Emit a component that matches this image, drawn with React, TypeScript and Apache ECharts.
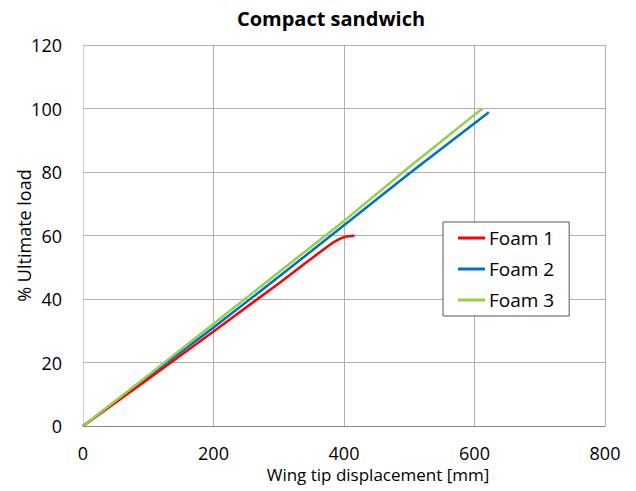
import React, { useEffect, useRef } from "react";
import * as echarts from "echarts";

const title = "Compact sandwich";
const xName = "Wing tip displacement [mm]";
const yName = "% Ultimate load";
const seriesNames = ["Foam 1", "Foam 2", "Foam 3"];
const colors = ["#ff0000", "#0070c0", "#92d050"];

const foam1: [number, number][] = [
  [0, 0], [100, 14.8], [200, 29.8], [300, 44.9], [340, 51.2], [370, 55.8],
  [385, 58], [395, 59.1], [403, 59.7], [416, 59.9],
];
const foam2: [number, number][] = [
  [0, 0], [100, 15.5], [200, 31], [300, 47], [400, 63.2], [500, 79.5], [622, 98.8],
];
const foam3: [number, number][] = [
  [0, 0], [100, 16], [200, 32.2], [300, 48.4], [400, 64.6], [500, 81.6], [612, 100],
];
const data = [foam1, foam2, foam3];

const FONT = "'Open Sans', 'Noto Sans', sans-serif";

export default function App() {
  const ref = useRef<HTMLDivElement>(null);
  useEffect(() => {
    if (!ref.current) return;
    const chart = echarts.init(ref.current, undefined, { renderer: "svg" });
    chart.setOption({
      animation: false,
      backgroundColor: "#ffffff",
      title: {
        text: title,
        left: 326,
        textAlign: "center",
        top: 3,
        textStyle: { fontFamily: FONT, fontSize: 20, fontWeight: "bold", color: "#000" },
      },
      grid: {
        left: 83,
        right: 31,
        top: 45,
        bottom: 65,
        containLabel: false,
        outerBoundsMode: "none",
        show: false,
      },
      legend: {
        orient: "vertical",
        left: 443,
        top: 222,
        width: 125,
        padding: [6, 15, 6, 15],
        backgroundColor: "#fff",
        borderColor: "#555",
        borderWidth: 1,
        itemWidth: 27,
        itemHeight: 3,
        itemGap: 11,
        icon: "rect",
        textStyle: {
          fontFamily: FONT,
          fontSize: 19,
          lineHeight: 20,
          color: "#000",
          padding: [0, 0, 0, -1],
        },
        data: seriesNames,
      },
      xAxis: {
        type: "value",
        min: 0,
        max: 800,
        interval: 200,
        name: xName,
        nameLocation: "middle",
        nameGap: 40,
        nameMoveOverlap: false,
        nameTextStyle: { fontFamily: FONT, fontSize: 17, color: "#000", padding: [0, 0, 0, 68] },
        axisLine: { show: true, lineStyle: { color: "#868686", width: 1 } },
        axisTick: { show: false },
        axisLabel: { fontFamily: FONT, fontSize: 18, color: "#000", margin: 18 },
        splitLine: { show: true, lineStyle: { color: "#b0b0b0", width: 1 } },
      },
      yAxis: {
        type: "value",
        min: 0,
        max: 120,
        interval: 20,
        name: yName,
        nameLocation: "middle",
        nameGap: 50,
        nameMoveOverlap: false,
        nameTextStyle: { fontFamily: FONT, fontSize: 18, color: "#000" },
        axisLine: { show: true, lineStyle: { color: "#c8c8c8", width: 1 } },
        axisTick: { show: false },
        axisLabel: { fontFamily: FONT, fontSize: 18, color: "#000", margin: 21 },
        splitLine: { show: true, lineStyle: { color: "#b0b0b0", width: 1 } },
      },
      series: seriesNames.map((n, i) => ({
        name: n,
        type: "line",
        data: data[i],
        showSymbol: false,
        symbol: "none",
        smooth: false,
        lineStyle: { color: colors[i], width: 2.5 },
        itemStyle: { color: colors[i] },
        z: i === 0 ? 3 : i === 1 ? 2 : 4,
      })),
    });
    return () => chart.dispose();
  }, []);
  return (
    <div
      ref={ref}
      style={{ position: "absolute", left: 0, top: 0, width: 636, height: 491 }}
    />
  );
}
